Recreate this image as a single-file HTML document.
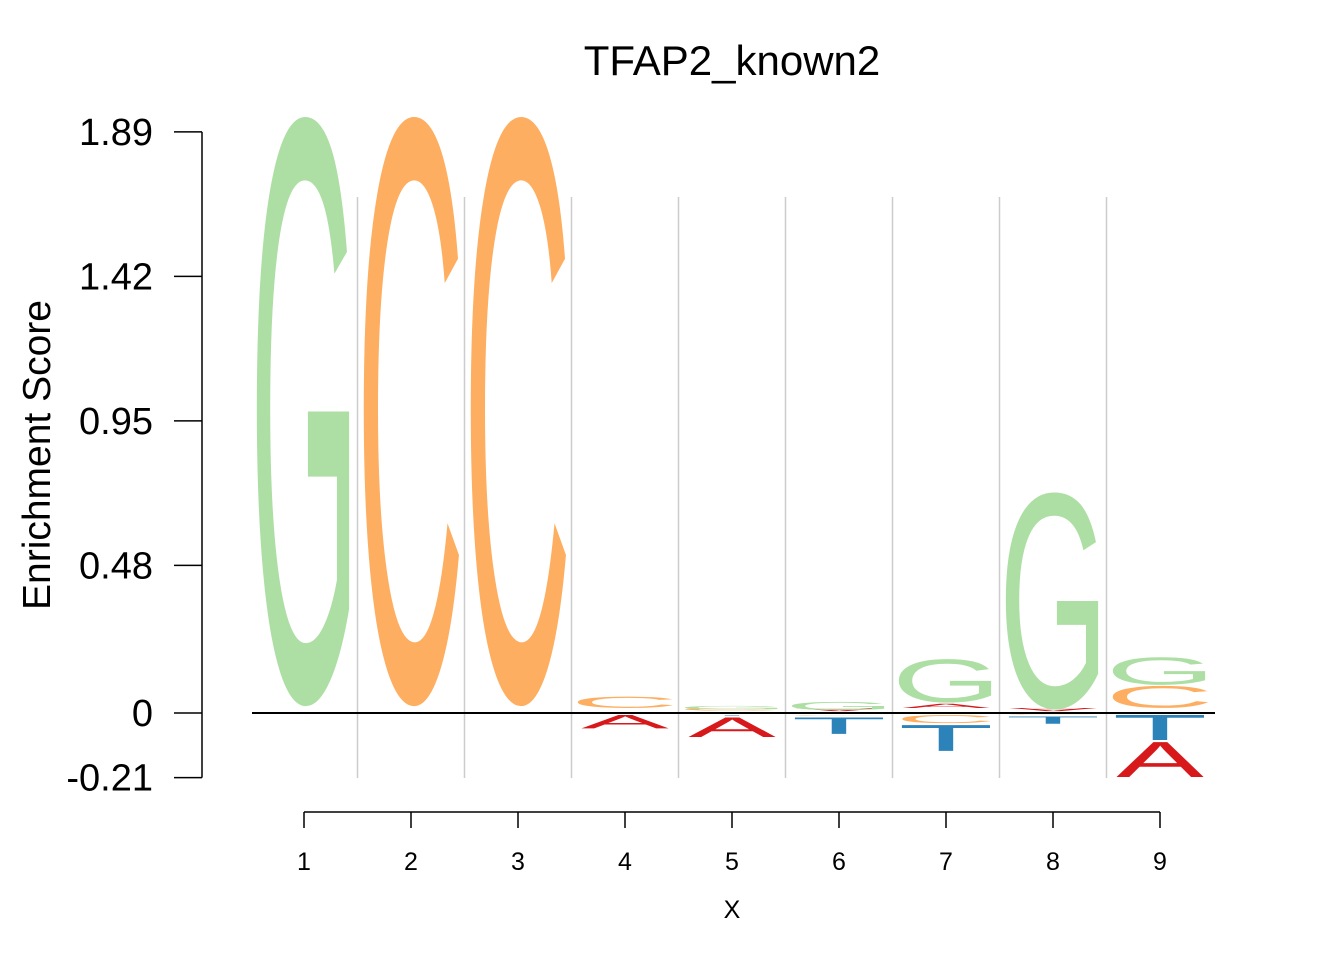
<!DOCTYPE html>
<html><head><meta charset="utf-8"><style>body{margin:0;background:#fff}svg{display:block}text{font-family:"Liberation Sans",Arial,sans-serif}</style></head>
<body>
<svg id="chart" width="1344" height="960" xmlns="http://www.w3.org/2000/svg">
<text x="732" y="75" font-size="42" text-anchor="middle">TFAP2_known2</text>
<text transform="translate(50,455) rotate(-90)" font-size="39" text-anchor="middle">Enrichment Score</text>
<text x="732" y="918" font-size="25" text-anchor="middle">X</text>
<g id="grid"></g><g id="letters"></g><g id="axes"></g>
</svg>
<script>
const positions=[1,2,3,4,5,6,7,8,9];
const yTicks=[1.89,1.42,0.95,0.48,0,-0.21];
const yTickLabels=["1.89","1.42","0.95","0.48","0","-0.21"];
// positive stacks (bottom to top) and negative stacks (top to bottom)
const posLetters=[["G"],["C"],["C"],["C"],["C","G"],["A","G"],["A","G"],["A","G"],["C","G"]];
const posHeights=[[1.935],[1.935],[1.935],[0.053],[0.008,0.015],[0.006,0.03],[0.03,0.145],[0.006,0.71],[0.088,0.093]];
const negLetters=[[],[],[],["A"],["T","A"],["C","T"],["C","T"],["C","T"],["T","A"]];
const negHeights=[[],[],[],[0.05],[0.008,0.07],[0.008,0.06],[0.033,0.09],[0.005,0.03],[0.088,0.12]];
const colors={G:"#addfa4",C:"#fdae61",T:"#2b83ba",A:"#d7191c"};
const ink={G:[48,720,-12,697],C:[49,681,-12,697],A:[-2,668,0,688],T:[23,588,0,688]};
const NS="http://www.w3.org/2000/svg";
const y0=713,k=307.5;
function ys(v){return y0-v*k;}
function xs(p){return 304+(p-1)*107;}
const grid=document.getElementById('grid'),L=document.getElementById('letters'),ax=document.getElementById('axes');
function mk(t,a,parent){const e=document.createElementNS(NS,t);for(const n in a)e.setAttribute(n,a[n]);parent.appendChild(e);return e;}
for(let i=1;i<positions.length;i++){
  const g=mk('line',{x1:xs(positions[i])-53.5,x2:xs(positions[i])-53.5,y1:197,y2:778,stroke:'#cccccc','stroke-width':1.5},grid);
  
  
}
function letter(ch,cx,top,bot,w){
  const b=ink[ch];const sx=w/(b[1]-b[0]);const sy=(bot-top)/(b[3]-b[2]);
  const tx=cx-w/2-b[0]*sx;const ty=bot+b[2]*sy;
  const t=mk('text',{transform:`translate(${tx},${ty}) scale(${sx},${sy})`,'font-size':1000,fill:colors[ch]},L);
  t.textContent=ch;
  
  
}
positions.forEach((p,i)=>{
  let acc=0;
  posLetters[i].forEach((ch,j)=>{const h=posHeights[i][j];letter(ch,xs(p),ys(acc+h),ys(acc)-(j==0?5:1),ch=='A'?88:95);acc+=h;});
  acc=0;
  negLetters[i].forEach((ch,j)=>{const h=negHeights[i][j];letter(ch,xs(p),ys(-acc)+2,ys(-acc-h),88);acc+=h;});
});
const zl=mk('line',{x1:252,x2:1215,y1:y0,y2:y0,stroke:'#000','stroke-width':2},ax);


const ya=mk('line',{x1:202,x2:202,y1:ys(yTicks[0]),y2:ys(yTicks[yTicks.length-1]),stroke:'#000','stroke-width':1.5},ax);


yTicks.forEach((v,i)=>{
  mk('line',{x1:174,x2:202,y1:ys(v),y2:ys(v),stroke:'#000','stroke-width':1.5},ax);
  const t=mk('text',{x:153,y:ys(v)+13,'font-size':38,'text-anchor':'end'},ax);
  t.textContent=yTickLabels[i];
  
  
});
const xa=mk('line',{x1:xs(1),x2:xs(9),y1:812,y2:812,stroke:'#000','stroke-width':1.5},ax);


positions.forEach(p=>{
  mk('line',{x1:xs(p),x2:xs(p),y1:812,y2:828,stroke:'#000','stroke-width':1.5},ax);
  const t=mk('text',{x:xs(p),y:870,'font-size':25,'text-anchor':'middle'},ax);
  t.textContent=p;
  
  
});
</script>
</body></html>
